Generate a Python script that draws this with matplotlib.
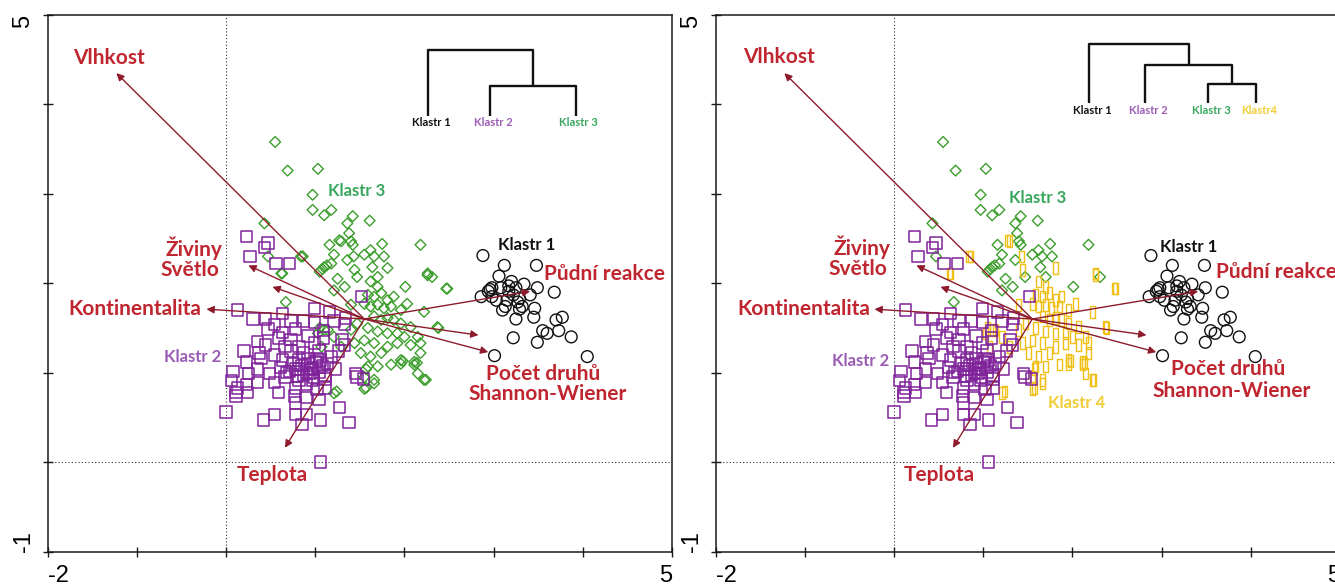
import matplotlib
matplotlib.use("Agg")
import matplotlib.pyplot as plt
from matplotlib.path import Path
import numpy as np

# ---------------------------------------------------------------------------
# Ordination scores of the releves (axis 1, axis 2)
# ---------------------------------------------------------------------------
klastr1 = np.array([
    (2.88, 2.31), (3.12, 2.20), (3.48, 2.20), (3.06, 2.08), (3.20, 2.02),
    (3.17, 1.97), (2.98, 1.95), (2.94, 1.91), (3.25, 1.95), (3.34, 1.99),
    (3.49, 1.95), (3.68, 1.90), (2.86, 1.85), (2.98, 1.85), (3.03, 1.81),
    (3.15, 1.81), (3.29, 1.83), (3.22, 1.87), (3.41, 1.87), (3.32, 1.74),
    (3.29, 1.71), (3.46, 1.72), (3.10, 1.70), (3.25, 1.60), (3.45, 1.62),
    (3.70, 1.59), (3.77, 1.62), (3.55, 1.47), (3.60, 1.44), (3.73, 1.47),
    (3.87, 1.40), (3.22, 1.39), (3.49, 1.34), (3.01, 1.19), (4.05, 1.18),
    (3.08, 1.95), (3.17, 1.91), (3.27, 1.79), (3.13, 1.74), (2.96, 1.93),
])

klastr2 = np.array([
    (0.23, 2.52), (0.47, 2.45), (0.43, 2.40), (0.27, 2.30), (0.56, 2.22),
    (0.71, 2.22), (0.13, 1.70), (0.00, 0.56), (0.42, 0.47), (0.54, 0.53),
    (0.78, 0.53), (0.90, 0.53), (0.85, 0.42), (1.06, 0.47), (1.27, 0.61),
    (1.38, 0.44), (1.06, 0.00), (0.08, 1.01), (0.06, 0.91), (0.13, 0.83),
    (0.24, 0.78), (0.11, 0.78), (0.23, 1.12), (0.35, 1.35), (0.37, 1.22),
    (0.77, 0.74), (0.78, 0.66), (1.02, 0.81), (1.45, 0.99), (1.47, 0.95),
    (1.54, 0.93), (1.30, 1.37), (0.99, 1.72), (1.16, 1.68), (0.63, 1.66),
    (0.30, 1.60), (0.44, 1.60), (0.54, 1.54), (0.73, 1.58), (0.87, 1.58),
    (0.99, 1.56), (1.21, 1.58), (1.33, 1.54), (0.47, 1.49), (0.63, 1.45),
    (0.78, 1.49), (0.92, 1.41), (1.09, 1.47), (0.59, 1.39), (0.73, 1.37),
    (0.39, 1.16), (0.54, 1.20), (0.73, 1.24), (0.87, 1.22), (1.04, 1.24),
    (1.18, 1.18), (1.26, 1.24), (1.33, 1.31), (0.63, 1.14), (0.82, 1.14),
    (0.92, 1.10), (1.06, 1.14), (1.14, 1.10), (0.35, 1.04), (0.49, 0.99),
    (0.61, 1.06), (0.71, 1.01), (0.82, 1.04), (0.94, 0.99), (1.04, 1.06),
    (1.11, 0.97), (1.23, 1.04), (0.25, 0.99), (0.35, 0.89), (0.54, 0.89),
    (0.66, 0.95), (0.82, 0.91), (0.97, 0.91), (1.11, 0.93), (0.78, 0.83),
    (0.90, 0.87), (0.23, 0.87), (0.20, 1.24), (0.44, 1.31), (0.82, 1.29),
    (0.99, 1.33), (1.09, 1.39), (0.66, 1.29), (0.78, 1.04), (0.92, 1.16),
    (0.97, 1.04), (1.02, 1.16), (0.87, 0.97), (0.59, 0.78), (1.11, 0.83),
    (1.04, 0.70), (0.90, 0.72), (0.11, 0.74), (0.85, 1.08), (0.95, 1.05),
    (1.00, 1.12), (0.90, 1.00), (1.05, 1.00), (0.75, 1.10), (0.68, 1.00),
    (0.98, 0.95), (1.08, 1.08), (0.80, 0.96), (1.52, 1.85), (1.34, 1.61),
])

# Klastr 3 of the three-cluster solution = klastr3 + klastr4 below
klastr3 = np.array([
    (0.55, 3.58), (0.69, 3.26), (1.03, 3.28), (0.97, 2.99), (0.97, 2.82),
    (1.10, 2.76), (1.18, 2.82), (0.43, 2.67), (1.42, 2.75), (1.61, 2.70),
    (1.36, 2.67), (1.38, 2.56), (1.40, 2.47), (1.16, 2.43), (1.42, 2.43),
    (1.62, 2.37), (1.75, 2.44), (1.55, 2.32), (1.66, 2.30), (1.77, 2.30),
    (1.21, 2.32), (1.18, 2.22), (1.36, 2.26), (2.18, 2.43), (1.10, 2.18),
    (1.05, 2.13), (1.47, 2.07), (1.70, 2.07), (1.64, 2.18), (2.01, 1.96),
    (2.31, 2.07), (1.33, 1.96), (1.21, 1.92), (0.67, 1.79), (0.47, 2.30),
    (1.13, 2.20), (1.08, 2.16), (1.25, 2.05),
])

klastr4 = np.array([
    (1.27, 2.48), (0.62, 2.11), (0.84, 2.30), (1.44, 2.15), (1.81, 2.17),
    (1.62, 2.02), (1.70, 1.96), (2.26, 2.09), (2.48, 1.94), (1.59, 1.87),
    (1.66, 1.85), (1.74, 1.89), (1.81, 1.81), (1.88, 1.85), (1.55, 1.77),
    (1.62, 1.74), (1.70, 1.76), (1.77, 1.72), (1.85, 1.74), (1.96, 1.70),
    (2.03, 1.77), (1.40, 1.76), (2.22, 1.68), (1.66, 1.63), (1.74, 1.59),
    (1.81, 1.61), (1.88, 1.59), (1.96, 1.55), (2.07, 1.51), (1.47, 1.55),
    (1.40, 1.48), (1.59, 1.50), (1.70, 1.46), (1.81, 1.44), (1.92, 1.44),
    (2.00, 1.40), (2.15, 1.40), (2.37, 1.51), (1.03, 1.44), (1.14, 1.48),
    (1.21, 1.40), (1.07, 1.29), (1.29, 1.29), (1.44, 1.33), (1.55, 1.36),
    (1.66, 1.33), (1.81, 1.29), (1.92, 1.33), (2.07, 1.31), (2.18, 1.33),
    (1.51, 1.22), (1.62, 1.18), (1.74, 1.22), (1.96, 1.14), (2.11, 1.12),
    (2.18, 1.22), (1.59, 1.07), (1.70, 1.07), (1.85, 1.09), (1.96, 1.10),
    (2.11, 1.09), (1.55, 0.95), (1.66, 0.92), (2.15, 0.99), (2.22, 0.92),
    (1.21, 0.77), (1.55, 0.82), (1.66, 0.88), (1.24, 0.79), (1.57, 0.83),
    (2.24, 0.92), (1.98, 1.13), (2.14, 1.11), (1.57, 1.04), (2.38, 1.50),
    (2.47, 1.94), (2.26, 2.11), (0.63, 2.11), (0.86, 2.30), (1.29, 2.47),
    (1.10, 1.48), (1.05, 1.50), (1.43, 2.30),
])

# ---------------------------------------------------------------------------
# Environmental variables (passive vectors)
# ---------------------------------------------------------------------------
env_origin = (1.55, 1.60)
env_names = ["Vlhkost", "Živiny", "Světlo", "Kontinentalita", "Teplota",
             "Půdní reakce", "Počet druhů", "Shannon-Wiener"]
env_x = [-1.23, 0.25, 0.52, -0.22, 0.66, 3.41, 2.83, 2.94]
env_y = [4.35, 2.20, 1.96, 1.71, 0.16, 1.91, 1.42, 1.23]

# Axis ticks
x_ticks = [-2, -1, 0, 1, 2, 3, 4, 5]
x_tick_labels = ["-2", "", "", "", "", "", "", "5"]
y_ticks = [-1, 0, 1, 2, 3, 4, 5]
y_tick_labels = ["-1", "", "", "", "", "", "5"]

# Cluster dendrograms: leaf names and merges (child a, child b, height)
dendro3_leaves = ["Klastr 1", "Klastr 2", "Klastr 3"]
dendro3_merges = [(1, 2, 30), (0, 3, 66)]
dendro4_leaves = ["Klastr 1", "Klastr 2", "Klastr 3", "Klastr4"]
dendro4_merges = [(2, 3, 18.7), (1, 4, 38), (0, 5, 59)]

# ---------------------------------------------------------------------------
# Styling
# ---------------------------------------------------------------------------
LABEL_FONT = ["Lato", "DejaVu Sans"]
TICK_FONT = ["Liberation Sans", "DejaVu Sans"]
ARROW_COL = "#8e1b2b"
TEXT_RED = "#c0262f"
C1 = "#111111"
C2 = "#80239a"
C3 = "#3c9e2c"
C4 = "#f0c016"
C1_TXT = "#111111"
C2_TXT = "#9a5bb5"
C3_TXT = "#38a65e"
C4_TXT = "#f2cd35"

# narrow upright rectangle marker
tall_rect = Path([(-0.22, -0.5), (0.22, -0.5), (0.22, 0.5), (-0.22, 0.5), (-0.22, -0.5)],
                 [Path.MOVETO, Path.LINETO, Path.LINETO, Path.LINETO, Path.CLOSEPOLY])

W, H = 1335, 585
fig = plt.figure(figsize=(W / 100, H / 100), dpi=100)


def px_rect(x0, y_top, w, h):
    return [x0 / W, (H - y_top - h) / H, w / W, h / H]


def setup_axes(ax):
    ax.set_xlim(-2, 5)
    ax.set_ylim(-1, 5)
    for s in ax.spines.values():
        s.set_linewidth(1.1)
        s.set_color("#1a1a1a")
    ax.axvline(0, color="#333333", lw=0.8, ls=(0, (1, 2)), zorder=0)
    ax.axhline(0, color="#333333", lw=0.8, ls=(0, (1, 2)), zorder=0)
    ax.set_xticks(x_ticks)
    ax.set_xticklabels(x_tick_labels, fontfamily=TICK_FONT, fontsize=17)
    ax.set_yticks(y_ticks)
    ax.set_yticklabels(y_tick_labels, fontfamily=TICK_FONT, fontsize=17, rotation=90)
    ax.tick_params(direction="inout", length=7, width=1.0, color="#1a1a1a", pad=6)
    xt = ax.xaxis.get_major_ticks()
    xt[0].label1.set_horizontalalignment("left")
    xt[-1].label1.set_horizontalalignment("right")
    yt = ax.yaxis.get_major_ticks()
    yt[0].label1.set_verticalalignment("bottom")
    yt[-1].label1.set_verticalalignment("top")


def draw_vectors(ax, label_pos):
    for name, x, y in zip(env_names, env_x, env_y):
        ax.annotate("", xy=(x, y), xytext=env_origin,
                    arrowprops=dict(arrowstyle="-|>", color=ARROW_COL, lw=1.0,
                                    mutation_scale=11, shrinkA=0, shrinkB=0),
                    zorder=5)
    for text, (lx, ly, ha) in label_pos.items():
        ax.text(lx, ly, text, color=TEXT_RED, fontsize=15, fontweight="bold",
                fontfamily=LABEL_FONT, ha=ha, va="center", zorder=6)


def draw_dendrogram(rect, xlim, ylim, leaves, leaf_x, merges, colors, label_h):
    dax = fig.add_axes(rect)
    dax.set_xlim(*xlim)
    dax.set_ylim(*ylim)
    dax.axis("off")
    node_x = list(leaf_x)
    node_h = [0.0] * len(leaf_x)
    for a, b, h in merges:
        xa, xb = node_x[a], node_x[b]
        dax.plot([xa, xa, xb, xb], [node_h[a], h, h, node_h[b]],
                 color="#111111", lw=1.7, solid_capstyle="butt")
        node_x.append((xa + xb) / 2)
        node_h.append(h)
    for name, x, c in zip(leaves, leaf_x, colors):
        dax.text(x + 3, label_h, name, color=c, fontsize=8, fontweight="bold",
                 fontfamily=LABEL_FONT, ha="center", va="center")


# ---------------------------------------------------------------- panel 1
ax1 = fig.add_axes(px_rect(47.7, 15, 624.3, 536.5))
setup_axes(ax1)
ax1.scatter(np.r_[klastr3[:, 0], klastr4[:, 0]], np.r_[klastr3[:, 1], klastr4[:, 1]],
            marker="D", s=30, facecolors="none", edgecolors=C3, linewidths=1.0, zorder=2)
ax1.scatter(klastr2[:, 0], klastr2[:, 1], marker="s", s=68, facecolors="none",
            edgecolors=C2, linewidths=1.1, zorder=3)
ax1.scatter(klastr1[:, 0], klastr1[:, 1], marker="o", s=72, facecolors="none",
            edgecolors=C1, linewidths=1.0, zorder=3)
draw_vectors(ax1, {
    "Vlhkost": (-1.31, 4.52, "center"),
    "Živiny": (-0.04, 2.39, "right"),
    "Světlo": (-0.07, 2.15, "right"),
    "Kontinentalita": (-0.28, 1.71, "right"),
    "Teplota": (0.52, -0.15, "center"),
    "Půdní reakce": (3.56, 2.10, "left"),
    "Počet druhů": (3.56, 0.99, "center"),
    "Shannon-Wiener": (3.61, 0.76, "center"),
})
for txt, (x, y), c in [("Klastr 3", (1.46, 3.03), C3_TXT),
                       ("Klastr 1", (3.37, 2.43), C1_TXT),
                       ("Klastr 2", (-0.37, 1.17), C2_TXT)]:
    ax1.text(x, y, txt, color=c, fontsize=12, fontweight="bold",
             fontfamily=LABEL_FONT, ha="center", va="center", zorder=6)
draw_dendrogram(px_rect(420, 40, 180, 90), (0, 180), (-14, 76), dendro3_leaves,
                [8.3, 70, 155.7], dendro3_merges, [C1_TXT, C2_TXT, C3_TXT], -6.7)

# ---------------------------------------------------------------- panel 2
ax2 = fig.add_axes(px_rect(715.7, 15, 624.3, 536.5))
setup_axes(ax2)
ax2.scatter(klastr3[:, 0], klastr3[:, 1], marker="D", s=30, facecolors="none",
            edgecolors=C3, linewidths=1.0, zorder=2)
ax2.scatter(klastr4[:, 0], klastr4[:, 1], marker=tall_rect, s=70, facecolors="none",
            edgecolors=C4, linewidths=1.0, zorder=2)
ax2.scatter(klastr2[:, 0], klastr2[:, 1], marker="s", s=68, facecolors="none",
            edgecolors=C2, linewidths=1.1, zorder=3)
ax2.scatter(klastr1[:, 0], klastr1[:, 1], marker="o", s=72, facecolors="none",
            edgecolors=C1, linewidths=1.0, zorder=3)
draw_vectors(ax2, {
    "Vlhkost": (-1.29, 4.53, "center"),
    "Živiny": (-0.04, 2.40, "right"),
    "Světlo": (-0.07, 2.16, "right"),
    "Kontinentalita": (-0.27, 1.71, "right"),
    "Teplota": (0.51, -0.15, "center"),
    "Půdní reakce": (3.61, 2.13, "left"),
    "Počet druhů": (3.75, 1.04, "center"),
    "Shannon-Wiener": (3.78, 0.80, "center"),
})
for txt, (x, y), c in [("Klastr 3", (1.61, 2.95), C3_TXT),
                       ("Klastr 1", (3.30, 2.40), C1_TXT),
                       ("Klastr 2", (-0.37, 1.13), C2_TXT),
                       ("Klastr 4", (2.05, 0.66), C4_TXT)]:
    ax2.text(x, y, txt, color=c, fontsize=12, fontweight="bold",
             fontfamily=LABEL_FONT, ha="center", va="center", zorder=6)
draw_dendrogram(px_rect(1080, 40, 200, 90), (0, 200), (-27, 63), dendro4_leaves,
                [9.3, 65, 128.3, 176], dendro4_merges,
                [C1_TXT, C2_TXT, C3_TXT, C4_TXT], -7.7)

fig.savefig("out.png", dpi=100)
